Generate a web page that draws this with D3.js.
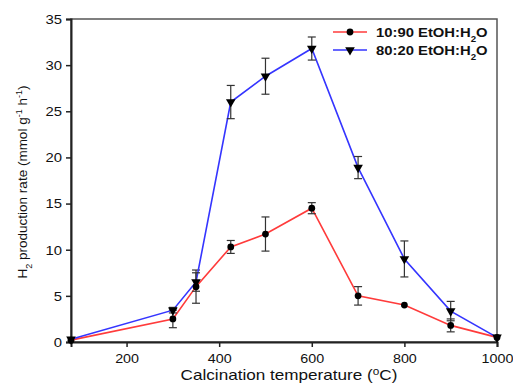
<!DOCTYPE html>
<html>
<head>
<meta charset="utf-8">
<script src="https://cdn.jsdelivr.net/npm/d3@7"></script>
<style>
  body { margin: 0; background: #fff; }
  text { font-family: "Liberation Sans", Arial, sans-serif; }
</style>
</head>
<body>
<div id="main"></div>
<script>
// calcination temperature (°C)
const temps = [80, 300, 350, 425, 500, 600, 700, 800, 900, 1000]
// 10:90 EtOH:H2O
const lowEtoh = [0.2, 2.5, 6.0, 10.3, 11.7, 14.5, 5.0, 4.0, 1.8, 0.5]
const lowErr = [0.1, 0.95, 1.8, 0.7, 1.85, 0.6, 1.0, 0.2, 0.7, 0.2]
// 80:20 EtOH:H2O
const highEtoh = [0.3, 3.45, 6.5, 26.0, 28.8, 31.8, 18.9, 9.0, 3.35, 0.5]
const highErr = [0.1, 0.3, 1.0, 1.8, 1.95, 1.25, 1.2, 1.95, 1.05, 0.2]
const xTicks = [200, 400, 600, 800, 1000]
const yTicks = [0, 5, 10, 15, 20, 25, 30, 35]

const W = 513, H = 385
const m = {top: 19, right: 16, bottom: 43, left: 71}

const svg = d3.select("#main").append("svg").attr("width", W).attr("height", H)

const x = d3.scaleLinear().domain([80, 1000]).range([m.left, W - m.right])
const y = d3.scaleLinear().domain([0, 35]).range([H - m.bottom, m.top])

// widen a text a little (the source figure is stretched sideways)
function stretch(sel, k) {
  sel.each(function () {
    const w = this.getComputedTextLength()
    d3.select(this).attr("textLength", w * k).attr("lengthAdjust", "spacingAndGlyphs")
  })
}

// frame (top / right)
svg.append("rect")
  .attr("x", m.left).attr("y", m.top)
  .attr("width", W - m.right - m.left).attr("height", H - m.bottom - m.top)
  .attr("fill", "none").attr("stroke", "#555").attr("stroke-width", 1.5)

const xAxis = svg.append("g").attr("transform", `translate(0,${H - m.bottom})`)
  .call(d3.axisBottom(x).tickValues(xTicks).tickFormat(d3.format("d")).tickSize(5).tickPadding(6))
const yAxis = svg.append("g").attr("transform", `translate(${m.left},0)`)
  .call(d3.axisLeft(y).tickValues(yTicks).tickSize(5).tickPadding(4))
;[xAxis, yAxis].forEach(g => {
  g.select(".domain").attr("stroke", "#222").attr("stroke-width", 2)
  g.selectAll(".tick line").attr("stroke", "#222").attr("stroke-width", 1.5)
  g.selectAll(".tick text").attr("font-size", 13.5).attr("fill", "#111")
    .attr("font-family", "Liberation Sans, Arial, sans-serif")
})
stretch(xAxis.selectAll(".tick text"), 1.06)
stretch(yAxis.selectAll(".tick text"), 1.1)

// axis titles
const xTitle = svg.append("text").attr("x", 289).attr("y", 380)
  .attr("text-anchor", "middle").attr("font-size", 14.5).attr("fill", "#111")
  .html('Calcination temperature (<tspan baseline-shift="super" font-size="10">o</tspan>C)')
stretch(xTitle, 1.18)

svg.append("text").attr("transform", `translate(27,182) rotate(-90)`)
  .attr("text-anchor", "middle").attr("font-size", 13.5).attr("fill", "#111")
  .html('H<tspan baseline-shift="sub" font-size="9">2</tspan> production rate (mmol g<tspan baseline-shift="super" font-size="9">-1</tspan> h<tspan baseline-shift="super" font-size="9">-1</tspan>)')

const series = [
  {name: "10:90 EtOH:H", vals: lowEtoh, err: lowErr, color: "#ff3b3b", sym: d3.symbolCircle},
  {name: "80:20 EtOH:H", vals: highEtoh, err: highErr, color: "#3535ff", sym: d3.symbolTriangle}
]

const line = d3.line().x(d => x(d[0])).y(d => y(d[1]))

series.forEach(s => {
  const pts = temps.map((t, i) => [t, s.vals[i], s.err[i]])
  svg.append("path").datum(pts).attr("d", line)
    .attr("fill", "none").attr("stroke", s.color).attr("stroke-width", 1.6)

  // error bars
  const eb = svg.append("g").selectAll("g").data(pts.filter(d => d[2] > 0.25)).enter().append("g")
    .attr("stroke", "#333").attr("stroke-width", 1.2)
  eb.append("line").attr("x1", d => x(d[0])).attr("x2", d => x(d[0]))
    .attr("y1", d => y(d[1] - d[2])).attr("y2", d => y(d[1] + d[2]))
  eb.append("line").attr("x1", d => x(d[0]) - 4).attr("x2", d => x(d[0]) + 4)
    .attr("y1", d => y(d[1] - d[2])).attr("y2", d => y(d[1] - d[2]))
  eb.append("line").attr("x1", d => x(d[0]) - 4).attr("x2", d => x(d[0]) + 4)
    .attr("y1", d => y(d[1] + d[2])).attr("y2", d => y(d[1] + d[2]))
})

function marker(g, s, cx, cy) {
  const size = s.sym === d3.symbolCircle ? 36 : 40
  g.append("path").attr("d", d3.symbol().type(s.sym).size(size)())
    .attr("transform", `translate(${cx},${cy})` + (s.sym === d3.symbolTriangle ? " rotate(180)" : ""))
    .attr("fill", "#000")
}

series.forEach(s => {
  const g = svg.append("g")
  temps.forEach((t, i) => marker(g, s, x(t), y(s.vals[i])))
})

// legend
const leg = svg.append("g")
series.forEach((s, i) => {
  const ly = 32 + i * 18
  leg.append("line").attr("x1", 333).attr("x2", 367).attr("y1", ly).attr("y2", ly)
    .attr("stroke", s.color).attr("stroke-width", 1.6)
  marker(leg, s, 350, ly)
  const t = leg.append("text").attr("x", 376).attr("y", ly + 4.5).attr("font-size", 13)
    .attr("font-weight", "bold").attr("fill", "#111")
    .html(s.name + '<tspan baseline-shift="sub" font-size="8.5">2</tspan>O')
  stretch(t, 1.14)
})
</script>
</body>
</html>
